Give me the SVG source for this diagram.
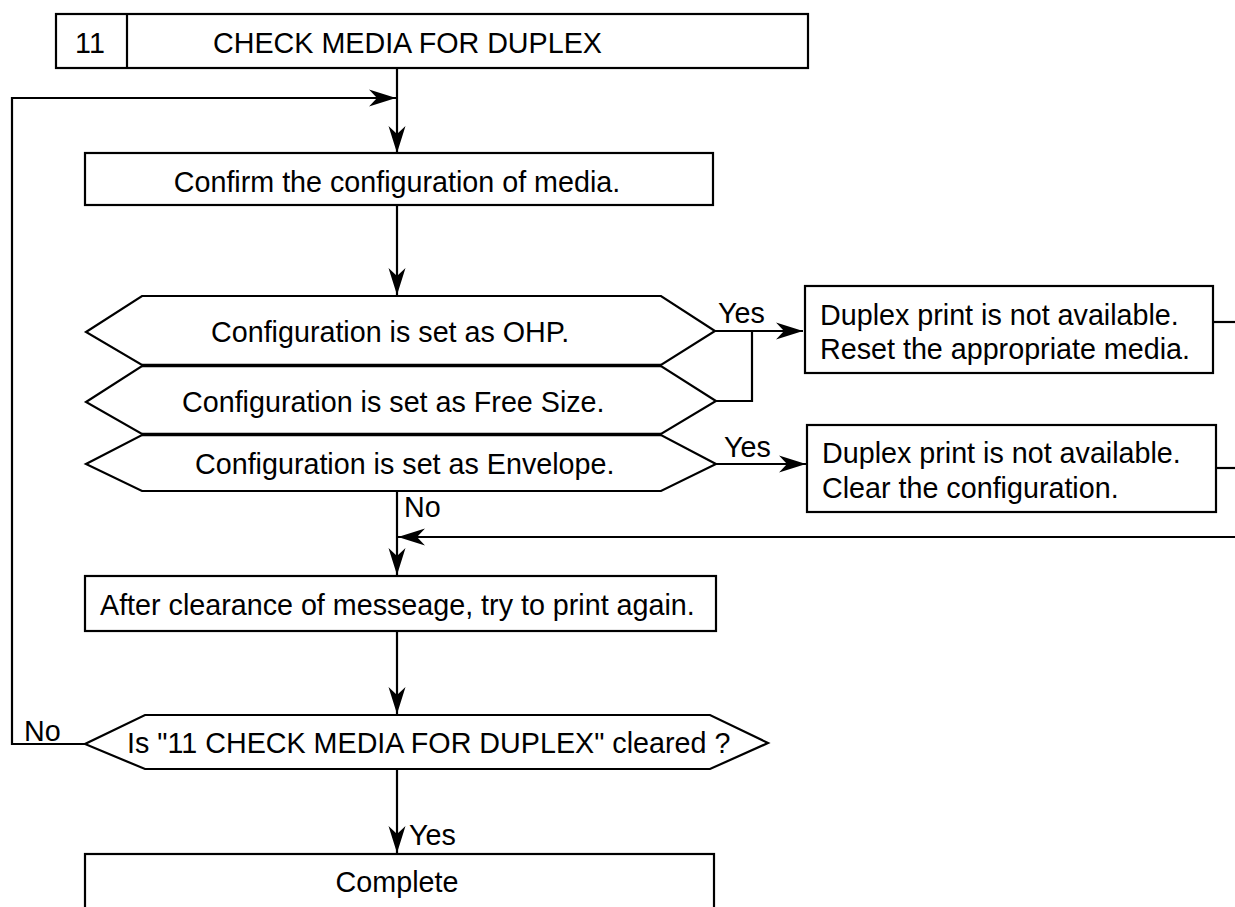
<svg xmlns="http://www.w3.org/2000/svg" width="1235" height="907" viewBox="0 0 1235 907">
<style>
.box{fill:#fff;stroke:#000;stroke-width:2.2}
.ln{fill:none;stroke:#000;stroke-width:2.2}
.sep{fill:none;stroke:#000;stroke-width:3.6}
.t{font-family:"Liberation Sans",Arial,sans-serif;font-size:28.7px;fill:#000}
</style>
<defs>
<marker id="ah" markerUnits="userSpaceOnUse" markerWidth="30" markerHeight="20" viewBox="-28 -10 30 20" refX="0" refY="0" orient="auto">
<path d="M0,0 L-27,-8.5 L-19,0 L-27,8.5 Z" fill="#000"/>
</marker>
</defs>
<rect width="1235" height="907" fill="#fff"/>
<g id="connectors">
<path class="ln" d="M397,68 V153" marker-end="url(#ah)"/>
<path class="ln" d="M85,744 H12 V98 H396" marker-end="url(#ah)"/>
<path class="ln" d="M397,205 V295" marker-end="url(#ah)"/>
<path class="ln" d="M715,331 H803" marker-end="url(#ah)"/>
<path class="ln" d="M716,401 H752 V331"/>
<path class="ln" d="M716,464 H806" marker-end="url(#ah)"/>
<path class="ln" d="M1213,322 H1235"/>
<path class="ln" d="M1216,468 H1235"/>
<path class="ln" d="M1235,537 H398" marker-end="url(#ah)"/>
<path class="ln" d="M397,491 V575" marker-end="url(#ah)"/>
<path class="ln" d="M397,631 V714" marker-end="url(#ah)"/>
<path class="ln" d="M397,769 V853" marker-end="url(#ah)"/>
<text class="t" x="718" y="323">Yes</text>
<text class="t" x="724" y="457">Yes</text>
<text class="t" x="404" y="517">No</text>
<text class="t" x="24" y="741">No</text>
<text class="t" x="409" y="845">Yes</text>
</g>
<g id="title">
<rect class="box" x="56" y="14" width="752" height="54"/>
<path class="ln" d="M127,14 V68"/>
<text class="t" x="90" y="53" text-anchor="middle">11</text>
<text class="t" x="213" y="53">CHECK MEDIA FOR DUPLEX</text>
</g>
<g id="confirm">
<rect class="box" x="85" y="153" width="628" height="52"/>
<text class="t" x="397" y="192" text-anchor="middle">Confirm the configuration of media.</text>
</g>
<g id="dec-ohp">
<polygon class="box" points="142,296 661,296 715,331 661,365 142,365 86,332"/>
<text class="t" x="211" y="342">Configuration is set as OHP.</text>
</g>
<g id="dec-free">
<polygon class="box" points="142,366 661,366 716,401 661,434 142,434 86,402"/>
<path class="sep" d="M142,365.5 H661"/>
<text class="t" x="182" y="412">Configuration is set as Free Size.</text>
</g>
<g id="dec-env">
<polygon class="box" points="142,435 661,435 716,464 661,491 142,491 86,464"/>
<path class="sep" d="M142,434.5 H661"/>
<text class="t" x="195" y="474">Configuration is set as Envelope.</text>
</g>
<g id="reset-media">
<rect class="box" x="805" y="286" width="408" height="87"/>
<text class="t" x="820" y="325">Duplex print is not available.</text>
<text class="t" x="820" y="359">Reset the appropriate media.</text>
</g>
<g id="clear-config">
<rect class="box" x="807" y="425" width="409" height="87"/>
<text class="t" x="822" y="463">Duplex print is not available.</text>
<text class="t" x="822" y="498">Clear the configuration.</text>
</g>
<g id="retry">
<rect class="box" x="85" y="576" width="631" height="55"/>
<text class="t" x="100" y="615">After clearance of messeage, try to print again.</text>
</g>
<g id="dec-cleared">
<polygon class="box" points="145,715 710,715 768,743 710,769 145,769 85,744"/>
<text class="t" x="127" y="753">Is "11 CHECK MEDIA FOR DUPLEX" cleared ?</text>
</g>
<g id="complete">
<rect class="box" x="85" y="854" width="629" height="70"/>
<text class="t" x="397" y="892" text-anchor="middle">Complete</text>
</g>
</svg>
